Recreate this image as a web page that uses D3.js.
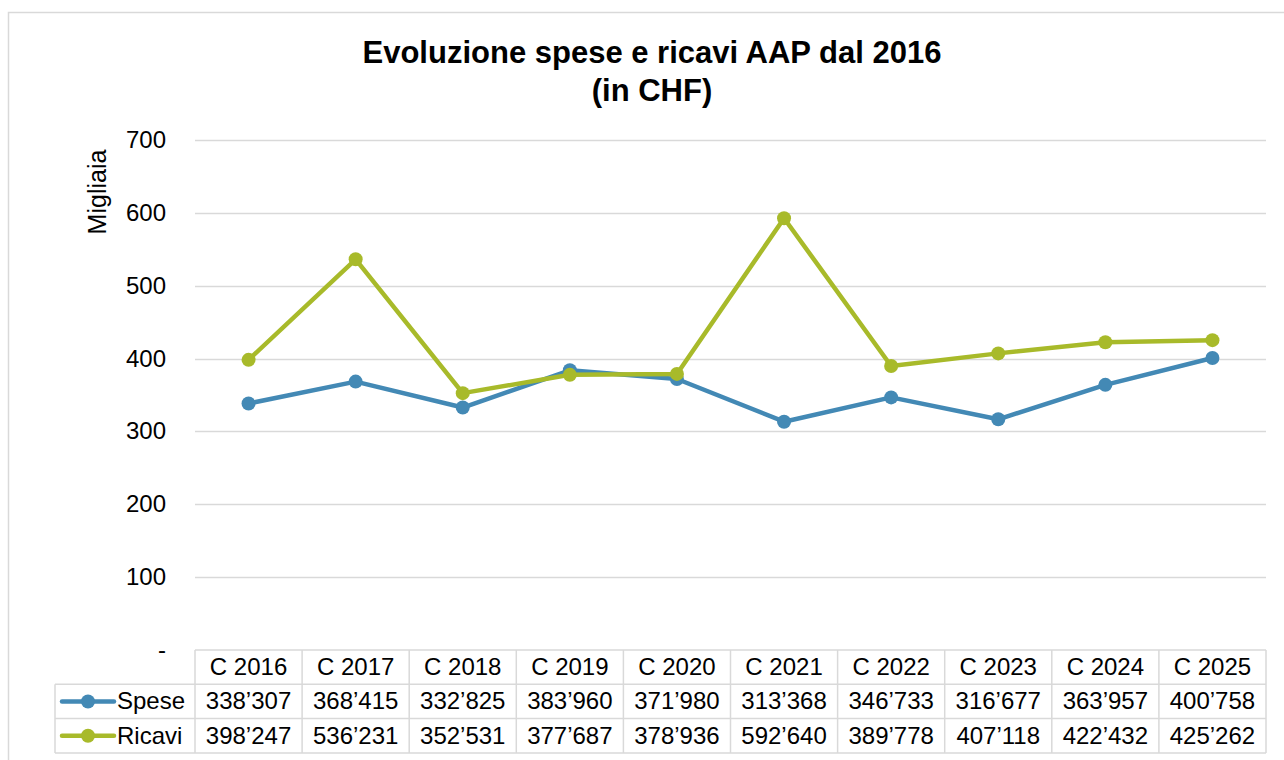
<!DOCTYPE html>
<html>
<head>
<meta charset="utf-8">
<script src="https://cdn.jsdelivr.net/npm/d3@7"></script>
<style>
  body { margin: 0; background: #fff; }
  svg text { font-family: "Liberation Sans", Arial, sans-serif; fill: #000; }
</style>
</head>
<body>
<div id="chart"></div>
<script>
var svgWidth = 1284;
var svgHeight = 760;

// data
var categories = ['C 2016', 'C 2017', 'C 2018', 'C 2019', 'C 2020', 'C 2021', 'C 2022', 'C 2023', 'C 2024', 'C 2025'];
var spese = [338307, 368415, 332825, 383960, 371980, 313368, 346733, 316677, 363957, 400758];
var ricavi = [398247, 536231, 352531, 377687, 378936, 592640, 389778, 407118, 422432, 425262];
var yTicks = [0, 100, 200, 300, 400, 500, 600, 700];

var series = [
    { name: 'Spese', values: spese, color: '#4389b5' },
    { name: 'Ricavi', values: ricavi, color: '#a8ba2a' }
];

var plot = { left: 195, right: 1266, top: 140, bottom: 650 };
var rowH = 34.3;
var legendLeft = 55;
var gridColor = '#d9d9d9';
var fontSize = '24px';

var svg = d3.select('#chart').append('svg')
    .attr('width', svgWidth)
    .attr('height', svgHeight);

// outer chart border
svg.append('rect')
    .attr('x', 8.5).attr('y', 12.5)
    .attr('width', svgWidth + 10).attr('height', svgHeight + 10)
    .attr('fill', 'none')
    .attr('stroke', gridColor)
    .attr('stroke-width', 1.5);

// title
var title = svg.append('text')
    .attr('text-anchor', 'middle')
    .attr('font-size', '31px')
    .attr('font-weight', 'bold');
title.append('tspan').attr('x', 652).attr('y', 63).text('Evoluzione spese e ricavi AAP dal 2016');
title.append('tspan').attr('x', 652).attr('y', 101).text('(in CHF)');

var x = d3.scaleBand()
    .domain(categories)
    .range([plot.left, plot.right]);

var y = d3.scaleLinear()
    .domain([0, 700])
    .range([plot.bottom, plot.top]);

// gridlines
svg.append('g')
    .selectAll('line')
    .data(yTicks.filter(d => d > 0))
    .enter()
    .append('line')
    .attr('x1', plot.left)
    .attr('x2', plot.right)
    .attr('y1', d => Math.round(y(d)) + 0.5)
    .attr('y2', d => Math.round(y(d)) + 0.5)
    .attr('stroke', gridColor)
    .attr('stroke-width', 1.5);

// y tick labels
svg.append('g')
    .selectAll('text')
    .data(yTicks)
    .enter()
    .append('text')
    .attr('x', 166)
    .attr('y', d => y(d) + 8)
    .attr('text-anchor', 'end')
    .attr('font-size', fontSize)
    .text(d => d === 0 ? '-' : d);

// y axis title
svg.append('text')
    .attr('transform', 'translate(106, 192) rotate(-90)')
    .attr('text-anchor', 'middle')
    .attr('font-size', '25px')
    .text('Migliaia');

// lines
var line = d3.line()
    .x((d, i) => x(categories[i]) + x.bandwidth() / 2)
    .y(d => y(d / 1000));

series.forEach(function (s) {
    svg.append('path')
        .datum(s.values)
        .attr('d', line)
        .attr('fill', 'none')
        .attr('stroke', s.color)
        .attr('stroke-width', 4.5)
        .attr('stroke-linejoin', 'round')
        .attr('stroke-linecap', 'round');

    svg.append('g')
        .selectAll('circle')
        .data(s.values)
        .enter()
        .append('circle')
        .attr('cx', (d, i) => x(categories[i]) + x.bandwidth() / 2)
        .attr('cy', d => y(d / 1000))
        .attr('r', 7)
        .attr('fill', s.color);
});

// data table
var table = svg.append('g');
var tableTop = plot.bottom;
var tableBottom = tableTop + rowH * 3;

// horizontal lines
[0, 1, 2, 3].forEach(function (r) {
    table.append('line')
        .attr('x1', r === 0 ? plot.left : legendLeft)
        .attr('x2', plot.right)
        .attr('y1', tableTop + r * rowH)
        .attr('y2', tableTop + r * rowH)
        .attr('stroke', gridColor)
        .attr('stroke-width', 1.5);
});

// vertical lines
table.append('line')
    .attr('x1', legendLeft).attr('x2', legendLeft)
    .attr('y1', tableTop + rowH).attr('y2', tableBottom)
    .attr('stroke', gridColor).attr('stroke-width', 1.5);

categories.concat(['end']).forEach(function (c, i) {
    var xx = i < categories.length ? x(c) : plot.right;
    table.append('line')
        .attr('x1', xx).attr('x2', xx)
        .attr('y1', tableTop).attr('y2', tableBottom)
        .attr('stroke', gridColor).attr('stroke-width', 1.5);
});

// header
table.selectAll('.head')
    .data(categories)
    .enter()
    .append('text')
    .attr('class', 'head')
    .attr('x', d => x(d) + x.bandwidth() / 2)
    .attr('y', tableTop + rowH / 2 + 8)
    .attr('text-anchor', 'middle')
    .attr('font-size', fontSize)
    .text(d => d);

var fmt = function (v) {
    var s = String(v);
    return s.slice(0, s.length - 3) + '\u2019' + s.slice(s.length - 3);
};

series.forEach(function (s, r) {
    var cy = tableTop + rowH * (r + 1) + rowH / 2;

    // legend key
    table.append('line')
        .attr('x1', 62).attr('x2', 114)
        .attr('y1', cy).attr('y2', cy)
        .attr('stroke', s.color)
        .attr('stroke-width', 4.5)
        .attr('stroke-linecap', 'round');
    table.append('circle')
        .attr('cx', 88).attr('cy', cy).attr('r', 7)
        .attr('fill', s.color);
    table.append('text')
        .attr('x', 117)
        .attr('y', cy + 8)
        .attr('font-size', fontSize)
        .text(s.name);

    table.append('g')
        .selectAll('text')
        .data(s.values)
        .enter()
        .append('text')
        .attr('x', (d, i) => x(categories[i]) + x.bandwidth() / 2)
        .attr('y', cy + 8)
        .attr('text-anchor', 'middle')
        .attr('font-size', fontSize)
        .text(d => fmt(d));
});
</script>
</body>
</html>
